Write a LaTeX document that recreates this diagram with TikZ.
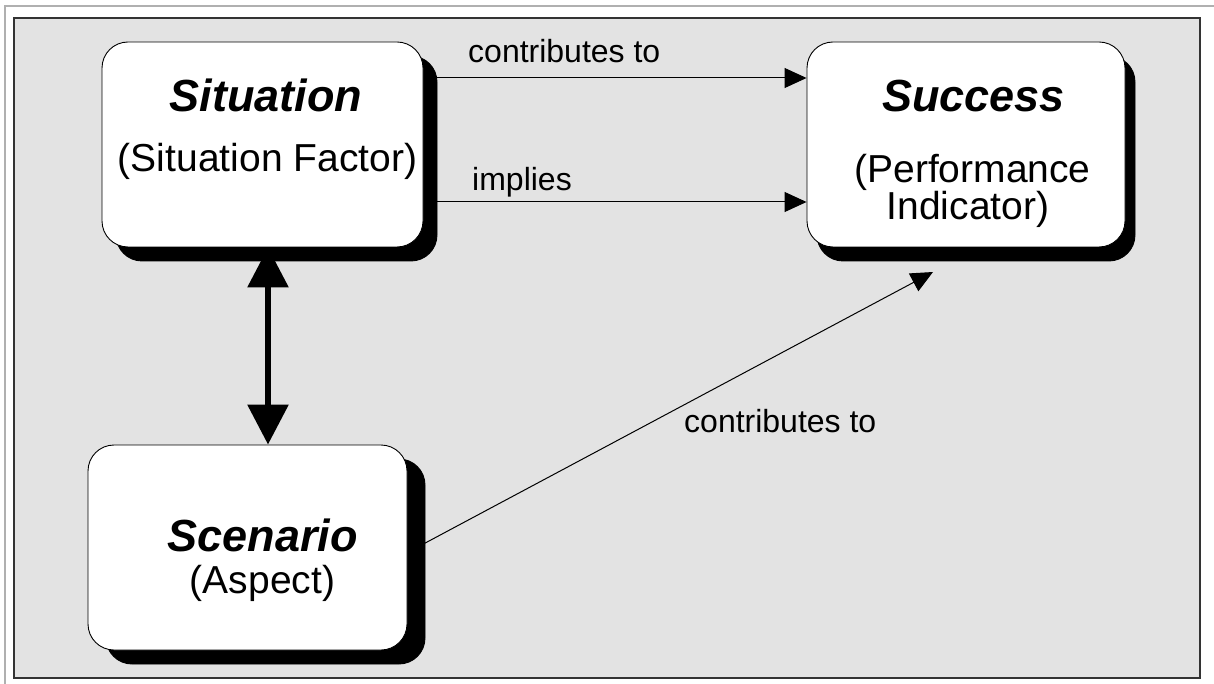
\documentclass[tikz,border=0pt]{standalone}
\usepackage{fontspec}
\setmainfont{Liberation Sans}
\usetikzlibrary{arrows.meta,shadows}
\pgfdeclarelayer{panel}
\pgfdeclarelayer{links}
\pgfsetlayers{panel,links,main}
\definecolor{panelgray}{RGB}{227,227,227}
\definecolor{framegray}{RGB}{51,51,51}
\definecolor{edgegray}{RGB}{176,176,176}
\tikzset{
  conceptbox/.style={draw=black, line width=0.9pt, fill=white, rounded corners=26pt,
    inner sep=0pt, minimum height=205pt,
    copy shadow={shadow xshift=#1, shadow yshift=-14pt, fill=black, draw=black}},
  titletext/.style={font=\fontsize{45}{54}\selectfont\bfseries\itshape, inner sep=0pt, anchor=base},
  roletext/.style={font=\fontsize{39}{47}\selectfont, inner sep=0pt, anchor=base},
  linklabel/.style={font=\fontsize{32}{38}\selectfont, inner sep=0pt, anchor=base west},
  thinlink/.style={-{Triangle[length=22pt,width=20pt]}, line width=1pt},
  thicklink/.style={{Triangle[length=40pt,width=40pt]}-{Triangle[length=40pt,width=40pt]}, line width=6pt},
}
\begin{document}
\begin{tikzpicture}[x=1pt, y=-1pt]
\useasboundingbox (0,0) rectangle (1214,684);

% backdrop panel and outer edge
\begin{pgfonlayer}{panel}
  \fill[white] (0,0) rectangle (1214,684);
  \draw[edgegray, line width=1.2pt] (5,684) -- (5,6) -- (1214,6);
  \draw[framegray, line width=1.6pt, fill=panelgray] (14,18) rectangle (1200,678);
\end{pgfonlayer}

% concept boxes
\node[conceptbox=14pt, minimum width=321pt] (sit) at (262.5,144.5) {};
\node[conceptbox=10pt, minimum width=318pt] (suc) at (966,144.5) {};
\node[conceptbox=18pt, minimum width=319pt] (scen) at (247.5,547.5) {};

% box texts
\node[titletext] (sitT) at (266,112) {Situation};
\node[roletext] (sitR) at (267.5,172) {(Situation Factor)};
\node[titletext] (sucT) at (973.5,112) {Success};
\node[roletext] (sucR1) at (972.5,183) {(Performance};
\node[roletext] (sucR2) at (968,220) {Indicator)};
\node[titletext] (scenT) at (262.5,551) {Scenario};
\node[roletext] (scenR) at (262.5,593) {(Aspect)};

% connector labels
\node[linklabel] (lab1) at (468,63) {contributes to};
\node[linklabel] (lab2) at (472,191) {implies};
\node[linklabel] (lab3) at (684,432) {contributes to};

% connectors, kept beneath the boxes and their shadows
\begin{pgfonlayer}{links}
  \coordinate (c1) at ([yshift=66.5pt]sit.east);
  \coordinate (c2) at ([yshift=-57.5pt]sit.east);
  \coordinate (c3) at ([yshift=-5pt]scen.east);
  \coordinate (c4) at ([xshift=5.5pt]sit.south);
  \coordinate (tipd) at (933,272);
  \draw[thinlink] (c1) -- (c1 -| suc.west);
  \draw[thinlink] (c2) -- (c2 -| suc.west);
  \draw[thinlink] (c3) -- (tipd);
  \draw[thicklink] (c4) -- (c4 |- scen.north);
\end{pgfonlayer}
\end{tikzpicture}
\end{document}
